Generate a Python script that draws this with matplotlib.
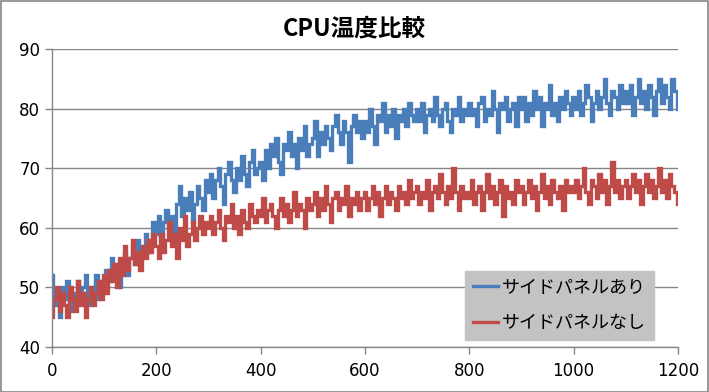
import numpy as np
import matplotlib
matplotlib.use("Agg")
import matplotlib.pyplot as plt
from matplotlib.patches import Rectangle

title = "CPU温度比較"
labels = ["サイドパネルあり", "サイドパネルなし"]
step = 5  # seconds between samples

with_panel = [
    52,47,49,45,50,48,51,46,49,47,51,48,50,52,47,50,49,52,48,51,
    50,53,51,55,52,54,50,53,56,52,55,57,54,58,55,57,59,56,58,61,
    59,62,58,61,63,60,62,59,64,67,62,65,63,66,61,64,67,65,63,68,
    66,69,65,68,70,67,64,69,71,68,66,70,68,72,69,67,71,73,69,70,
    71,68,73,70,74,72,75,71,69,74,73,76,72,74,70,75,73,77,72,74,
    75,78,72,76,74,77,75,73,77,79,76,74,78,76,71,77,79,76,78,75,
    78,76,80,77,74,79,78,81,76,79,77,80,75,79,78,80,77,81,79,78,
    80,78,81,76,79,80,78,82,79,77,80,81,78,76,80,79,82,78,80,79,
    81,79,80,77,81,82,78,80,79,83,80,76,81,80,82,78,80,81,77,82,
    80,82,78,81,79,83,80,82,77,81,80,84,79,81,78,82,80,83,81,79,
    82,80,83,79,81,84,82,78,81,83,80,82,85,81,79,83,82,80,84,81,
    83,81,84,79,82,85,81,83,80,84,82,79,83,85,81,84,82,80,85,83,
    80,
]
without_panel = [
    45,48,50,46,49,47,45,50,48,46,51,47,49,45,48,50,47,49,51,48,
    52,49,53,51,54,50,55,52,57,53,55,58,54,56,53,57,55,58,56,59,
    57,55,59,56,58,61,57,59,55,60,58,62,57,59,61,58,60,62,59,61,
    60,62,59,61,63,60,58,62,61,64,60,62,59,63,61,60,64,62,61,63,
    62,65,61,63,64,62,60,63,65,62,64,61,63,66,62,64,63,60,65,63,
    64,66,62,65,63,67,64,61,65,66,63,65,64,67,62,65,64,66,63,65,
    66,63,65,67,64,66,62,65,67,64,66,65,63,67,65,66,64,68,65,66,
    67,64,66,65,68,63,66,67,65,69,66,64,67,65,70,66,63,67,65,66,
    65,68,64,66,67,63,66,69,65,67,64,66,68,62,67,65,66,64,68,66,
    67,64,66,68,65,67,63,66,69,65,67,64,68,66,65,67,63,68,66,67,
    66,68,65,67,70,66,64,68,67,65,69,66,68,64,67,71,66,68,65,67,
    68,65,67,69,66,68,64,67,69,66,68,65,67,70,66,68,65,69,67,66,
    64,
]
xticks = [0, 200, 400, 600, 800, 1000, 1200]
yticks = [40, 50, 60, 70, 80, 90]

colors = ["#4A7EBB", "#BE4B48"]
grid_c = "#868686"

fig = plt.figure(figsize=(7.09, 3.92), dpi=100)
ax = fig.add_axes([52/709, 45/392, 626/709, 298/392])

t = np.arange(len(with_panel)) * step
ax.plot(t, with_panel, color=colors[0], lw=2.4, label=labels[0],
        drawstyle="steps-mid", solid_joinstyle="miter")
ax.plot(t, without_panel, color=colors[1], lw=2.4, label=labels[1],
        drawstyle="steps-mid", solid_joinstyle="miter")

ax.set_xlim(0, 1200)
ax.set_ylim(40, 90)
ax.set_xticks(xticks)
ax.set_yticks(yticks)
ax.grid(axis="y", color=grid_c, lw=1)
ax.set_axisbelow(True)
for s in ["top", "right"]:
    ax.spines[s].set_visible(False)
for s in ["left", "bottom"]:
    ax.spines[s].set_color(grid_c)
    ax.spines[s].set_linewidth(1)
ax.tick_params(axis="both", colors=grid_c, length=5, width=1, labelcolor="black",
               labelsize=12)
ax.tick_params(axis="x", pad=6)
for lab in ax.get_xticklabels() + ax.get_yticklabels():
    lab.set_family(["DejaVu Sans"])

fig.text(0.5, 0.928, title, ha="center", va="center", fontsize=17, fontweight="bold",
         family=["Noto Sans CJK JP", "DejaVu Sans"])

leg = ax.legend(loc="lower right", bbox_to_anchor=(0.962, 0.0235), frameon=True,
                fancybox=False, facecolor="#C3C3C3", edgecolor="#C3C3C3", framealpha=1,
                prop={"family": ["Noto Sans CJK JP", "DejaVu Sans"], "size": 13},
                handlelength=1.35, handletextpad=0.25, borderpad=0.45, labelspacing=0.95,
                borderaxespad=0)
for h in leg.get_lines():
    h.set_linewidth(2.4)
    h.set_drawstyle("default")

fig.patches.append(Rectangle((0.5/709, 0.5/392), 1 - 1.5/709, 1 - 1.5/392,
                             transform=fig.transFigure, fill=False,
                             edgecolor="#868686", lw=1.2))

fig.savefig("out.png", dpi=100)
